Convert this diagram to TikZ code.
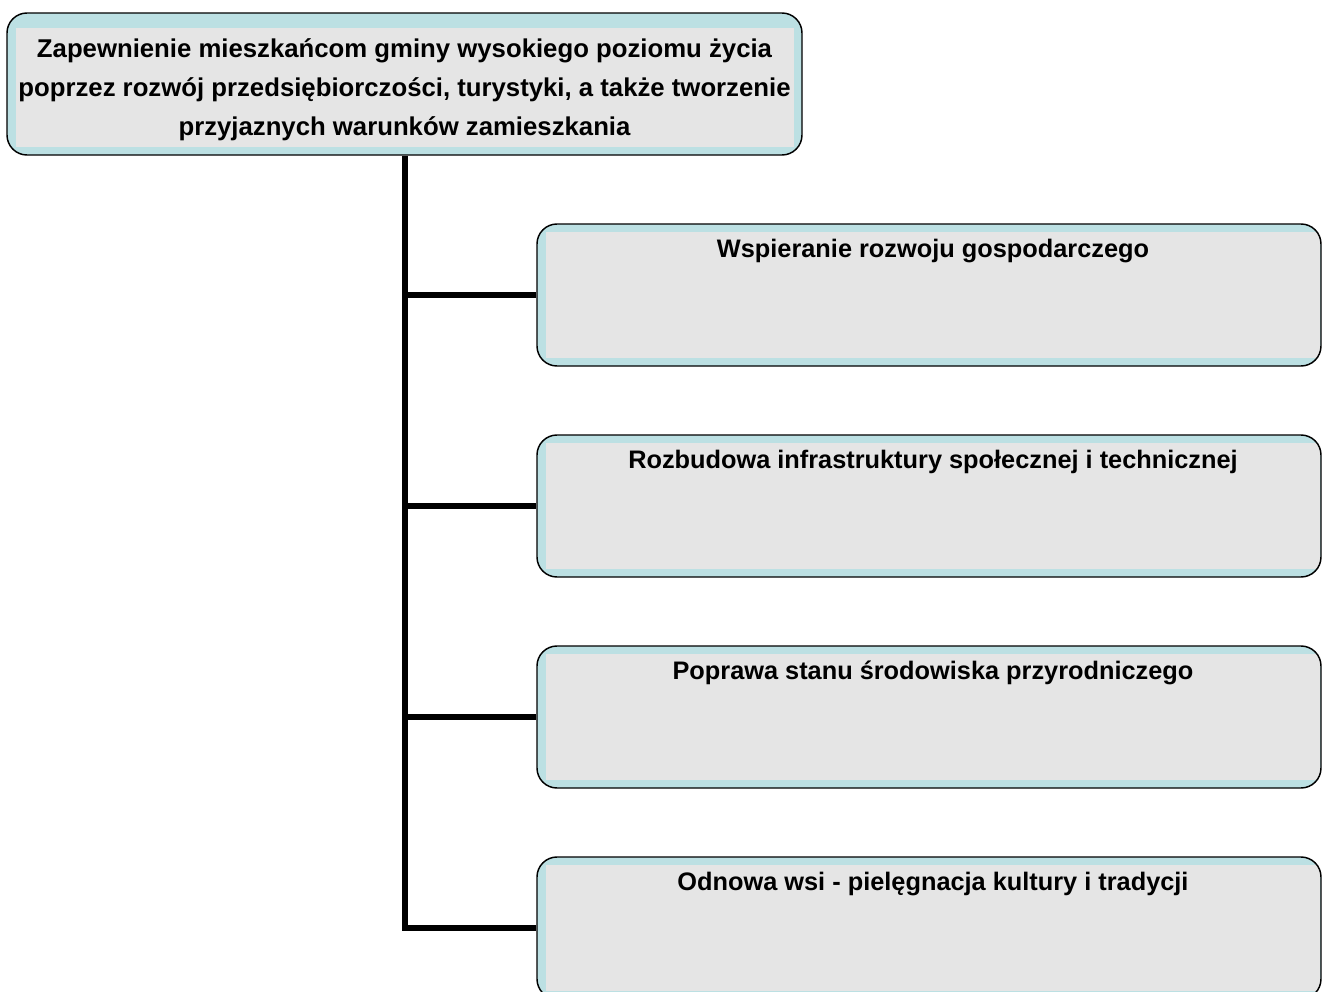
\documentclass[tikz,border=0pt]{standalone}
\usepackage{fontspec}
\setmainfont{Liberation Sans}
\definecolor{boxblue}{HTML}{BCE0E3}
\definecolor{boxgray}{HTML}{E5E5E5}
\tikzset{
  px/.style={x=0.75pt,y=-0.75pt},
  stagebox/.style 2 args={draw=black, line width=1.1pt, fill=boxblue, rounded corners=15pt,
    inner sep=0pt, font=\fontsize{19.3}{29.25}\selectfont\bfseries,
    path picture={\fill[boxgray, sharp corners] ([xshift=7pt,yshift=6pt]path picture bounding box.south west)
      rectangle ([xshift=-#2,yshift=-#1]path picture bounding box.north east);}},
  goalbox/.style={stagebox={11.25pt}{6pt}, minimum width=596.25pt, minimum height=106.5pt, align=center},
  subbox/.style={stagebox={6pt}{0.5pt}, minimum width=588pt, minimum height=106.5pt,
    font=\fontsize{19}{23}\selectfont\bfseries, text height=25pt, text depth=81.5pt,
    execute at begin node={\hspace*{6pt}}},
  link/.style={line width=4.5pt, line join=miter}
}
\begin{document}
\begin{tikzpicture}[px]
\useasboundingbox (0,0) rectangle (1322,992);
\node[goalbox] (goal) at (404.5,84) {\rule{0pt}{23pt}Zapewnienie mieszkańcom gminy wysokiego poziomu życia\\poprzez rozwój przedsiębiorczości, turystyki, a także tworzenie\\przyjaznych warunków zamieszkania};
\node[subbox] (b1) at (929,295) {Wspieranie rozwoju gospodarczego};
\node[subbox] (b2) at (929,506) {Rozbudowa infrastruktury społecznej i technicznej};
\node[subbox] (b3) at (929,717) {Poprawa stanu środowiska przyrodniczego};
\node[subbox] (b4) at (929,928) {Odnowa wsi - pielęgnacja kultury i tradycji};
\draw[link] (goal.south) -- (goal.south |- b4.west) -- (b4.west);
\draw[link] (goal.south |- b1.west) -- (b1.west);
\draw[link] (goal.south |- b2.west) -- (b2.west);
\draw[link] (goal.south |- b3.west) -- (b3.west);
\end{tikzpicture}
\end{document}
